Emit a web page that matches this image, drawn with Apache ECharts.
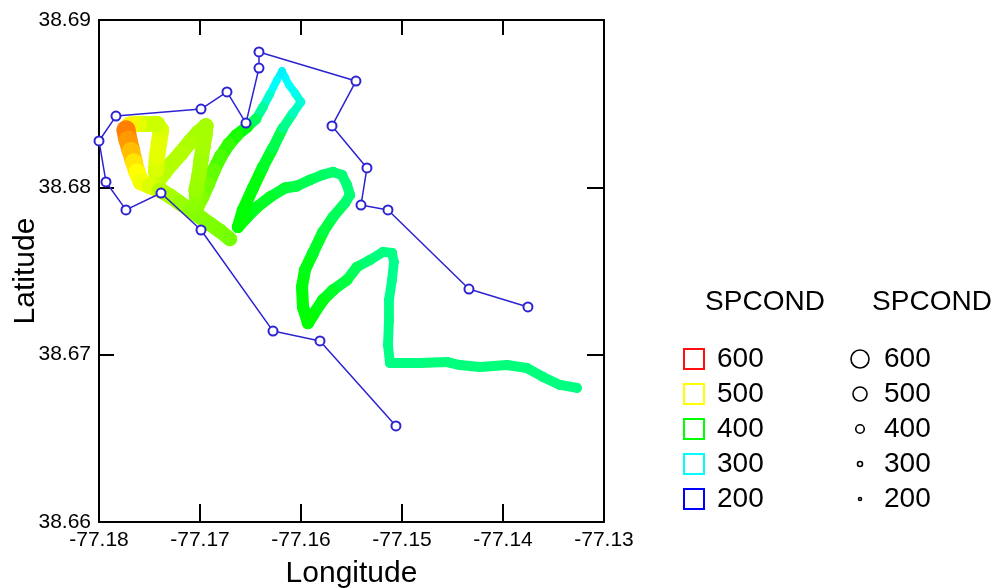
<!DOCTYPE html>
<html>
<head>
<meta charset="utf-8">
<script src="https://cdn.jsdelivr.net/npm/echarts@6/dist/echarts.min.js"></script>
<style>
  html, body { margin: 0; padding: 0; background: #fff; }
  #chart { width: 999px; height: 588px; }
</style>
</head>
<body>
<div id="chart"></div>
<script>
// axis ticks
const xTicks = [-77.18, -77.17, -77.16, -77.15, -77.14, -77.13]
const yTicks = [38.66, 38.67, 38.68, 38.69]

// survey stations (blue path), in visiting order
const stationLon = [-77.13753, -77.14337, -77.15139, -77.15406, -77.15347, -77.15693, -77.15456,
  -77.16416, -77.16416, -77.16545, -77.16733, -77.16990, -77.17832, -77.18000, -77.17931,
  -77.17733, -77.17386, -77.16990, -77.16277, -77.15812, -77.15060]
const stationLat = [38.67285, 38.67392, 38.67865, 38.67894, 38.68116, 38.68367, 38.68635,
  38.68809, 38.68713, 38.68384, 38.68570, 38.68468, 38.68426, 38.68277, 38.68032,
  38.67865, 38.67966, 38.67745, 38.67141, 38.67082, 38.66574]

// boat track with specific conductance
const trackLon = [-77.13268, -77.13436, -77.13604, -77.13763, -77.13961, -77.14228, -77.14426, -77.14555,
  -77.14822, -77.15020, -77.15119, -77.15139, -77.15129, -77.15129, -77.15099, -77.15080, -77.15099,
  -77.15188, -77.15317, -77.15446, -77.15545, -77.15683, -77.15782, -77.15881, -77.15931, -77.15980,
  -77.15990, -77.15961, -77.15881, -77.15782, -77.15683, -77.15565, -77.15515, -77.15545, -77.15594,
  -77.15683, -77.15792, -77.15911, -77.16040, -77.16159, -77.16307, -77.16436, -77.16535, -77.16624,
  -77.16574, -77.16475, -77.16376, -77.16277, -77.16178, -77.16079, -77.16000, -77.16060, -77.16119,
  -77.16159, -77.16188, -77.16238, -77.16307, -77.16376, -77.16446, -77.16535, -77.16634, -77.16713,
  -77.16792, -77.16862, -77.16921, -77.16980, -77.17030, -77.17040, -77.17010, -77.16990, -77.16970,
  -77.16951, -77.16941, -77.17020, -77.17099, -77.17188, -77.17277, -77.17357, -77.17426, -77.17436,
  -77.17426, -77.17406, -77.17386, -77.17426, -77.17515, -77.17604, -77.17693, -77.17733, -77.17713,
  -77.17683, -77.17654, -77.17624, -77.17584, -77.17495, -77.17396, -77.17297, -77.17198, -77.17099,
  -77.17000, -77.16901, -77.16802, -77.16703]
const trackLat = [38.66801, 38.66819, 38.66867, 38.66920, 38.66938, 38.66926, 38.66938, 38.66956,
  38.66950, 38.66950, 38.66950, 38.67058, 38.67207, 38.67327, 38.67446, 38.67554, 38.67608,
  38.67614, 38.67566, 38.67524, 38.67446, 38.67386, 38.67327, 38.67237, 38.67189, 38.67285,
  38.67404, 38.67506, 38.67608, 38.67733, 38.67823, 38.67906, 38.67954, 38.68014, 38.68074,
  38.68092, 38.68074, 38.68044, 38.68008, 38.67996, 38.67942, 38.67882, 38.67823, 38.67763,
  38.67865, 38.67996, 38.68122, 38.68235, 38.68355, 38.68444, 38.68510, 38.68564, 38.68612,
  38.68659, 38.68695, 38.68641, 38.68558, 38.68480, 38.68408, 38.68361, 38.68313, 38.68259,
  38.68187, 38.68104, 38.68020, 38.67942, 38.67882, 38.67984, 38.68074, 38.68163, 38.68241,
  38.68313, 38.68367, 38.68325, 38.68271, 38.68205, 38.68145, 38.68086, 38.68032, 38.68104,
  38.68181, 38.68265, 38.68343, 38.68379, 38.68379, 38.68379, 38.68373, 38.68343, 38.68283,
  38.68217, 38.68151, 38.68092, 38.68032, 38.68008, 38.67984, 38.67948, 38.67906, 38.67865,
  38.67823, 38.67781, 38.67739, 38.67691]
const trackSpcond = [350, 350, 352, 352, 352, 352, 352, 352,
  350, 350, 348, 348, 348, 345, 345, 345, 348,
  350, 355, 365, 375, 385, 392, 398, 400, 398,
  395, 392, 385, 375, 365, 358, 355, 355, 355,
  358, 362, 368, 372, 378, 385, 390, 395, 400,
  398, 395, 385, 370, 345, 325, 315, 305, 300,
  298, 295, 302, 320, 340, 365, 395, 410, 420,
  430, 438, 445, 450, 455, 460, 462, 462, 465,
  465, 465, 465, 468, 470, 470, 472, 475, 485,
  490, 490, 485, 480, 480, 490, 505, 550, 540,
  525, 510, 500, 495, 485, 470, 465, 460, 455,
  452, 450, 448, 445]

// legend entries
const legendValues = [600, 500, 400, 300, 200]

const scaleColors = ['#0000ff', '#00ffff', '#00ff00', '#ffff00', '#ff0000']
const legendSquareColors = ['#ff1010', '#ffff00', '#00ff00', '#00ffff', '#0000ff']
const legendCircleSizes = [18, 14, 8.5, 5, 3]
const pathBlue = '#2d23d2'
const font = 'Liberation Sans, Arial, sans-serif'

const chart = echarts.init(document.getElementById('chart'))

const bandWidth = v => 3 + (v - 200) * 0.046

const trackData = trackLon.map((lon, i) => [lon, trackLat[i], trackSpcond[i]])
const stationData = stationLon.map((lon, i) => [lon, stationLat[i]])

const graphic = []
graphic.push({ type: 'text', x: 765, y: 302, style: { text: 'SPCOND', font: '28px ' + font, fill: '#000', align: 'center', verticalAlign: 'middle' } })
graphic.push({ type: 'text', x: 932, y: 302, style: { text: 'SPCOND', font: '28px ' + font, fill: '#000', align: 'center', verticalAlign: 'middle' } })
legendValues.forEach((v, k) => {
  const cy = 359 + k * 35
  graphic.push({ type: 'rect', shape: { x: 684, y: cy - 10, width: 20, height: 20 }, style: { fill: null, stroke: legendSquareColors[k], lineWidth: 2 } })
  graphic.push({ type: 'text', x: 717, y: cy, style: { text: String(v), font: '28px ' + font, fill: '#000', verticalAlign: 'middle' } })
  graphic.push({ type: 'circle', shape: { cx: 860, cy: cy, r: legendCircleSizes[k] / 2 }, style: { fill: null, stroke: '#000', lineWidth: 1.6 } })
  graphic.push({ type: 'text', x: 884, y: cy, style: { text: String(v), font: '28px ' + font, fill: '#000', verticalAlign: 'middle' } })
})

const axisCommon = {
  type: 'value',
  interval: 0.01,
  splitLine: { show: false },
  axisLine: { show: true, onZero: false, lineStyle: { color: '#000', width: 2 } },
  axisTick: { show: true, inside: true, length: 15, lineStyle: { color: '#000', width: 2 } }
}

const options = {
  animation: false,
  backgroundColor: '#fff',
  grid: { left: 99, right: 395, top: 20, bottom: 66, containLabel: false, outerBoundsMode: 'none' },
  visualMap: [{
    type: 'continuous',
    show: false,
    seriesIndex: 0,
    dimension: 2,
    min: 200,
    max: 600,
    inRange: { color: scaleColors }
  }],
  xAxis: [
    Object.assign({}, axisCommon, {
      position: 'bottom',
      min: xTicks[0], max: xTicks[xTicks.length - 1],
      axisTick: { show: true, inside: true, length: 18, lineStyle: { color: '#000', width: 2 } },
      axisLabel: { color: '#000', fontSize: 21, fontFamily: font, margin: 8, formatter: v => v.toFixed(2) },
      name: 'Longitude', nameLocation: 'middle', nameGap: 37, nameMoveOverlap: false,
      nameTextStyle: { color: '#000', fontSize: 30, fontFamily: font }
    }),
    Object.assign({}, axisCommon, {
      position: 'top',
      min: xTicks[0], max: xTicks[xTicks.length - 1],
      axisLabel: { show: false }
    })
  ],
  yAxis: [
    Object.assign({}, axisCommon, {
      position: 'left',
      min: yTicks[0], max: yTicks[yTicks.length - 1],
      axisLabel: { color: '#000', fontSize: 21, fontFamily: font, margin: 8, formatter: v => v.toFixed(2) },
      name: 'Latitude', nameLocation: 'middle', nameGap: 58, nameRotate: 90, nameMoveOverlap: false,
      nameTextStyle: { color: '#000', fontSize: 30, fontFamily: font }
    }),
    Object.assign({}, axisCommon, {
      position: 'right',
      min: yTicks[0], max: yTicks[yTicks.length - 1],
      axisTick: { show: true, inside: true, length: 17, lineStyle: { color: '#000', width: 2 } },
      axisLabel: { show: false }
    })
  ],
  graphic: graphic,
  series: [
    {
      type: 'custom',
      name: 'track',
      coordinateSystem: 'cartesian2d',
      xAxisIndex: 0,
      yAxisIndex: 0,
      dimensions: ['lon', 'lat', 'spcond'],
      encode: { x: 0, y: 1 },
      data: trackData,
      z: 2,
      renderItem: (params, api) => {
        const i = params.dataIndex
        const p = api.coord([api.value(0), api.value(1)])
        const w = bandWidth(api.value(2))
        const color = api.visual('color')
        const children = [{ type: 'circle', shape: { cx: p[0], cy: p[1], r: w / 2 }, style: { fill: color } }]
        if (i < trackLon.length - 1) {
          const q = api.coord([trackLon[i + 1], trackLat[i + 1]])
          children.push({
            type: 'line',
            shape: { x1: p[0], y1: p[1], x2: q[0], y2: q[1] },
            style: { stroke: color, lineWidth: w, lineCap: 'round' }
          })
        }
        return { type: 'group', children: children }
      }
    },
    {
      type: 'line',
      name: 'stations',
      xAxisIndex: 0,
      yAxisIndex: 0,
      data: stationData,
      z: 5,
      symbol: 'emptyCircle',
      symbolSize: 9,
      lineStyle: { color: pathBlue, width: 1.5 },
      itemStyle: { color: pathBlue, borderColor: pathBlue, borderWidth: 1.5 }
    }
  ]
}

chart.setOption(options)
</script>
</body>
</html>
